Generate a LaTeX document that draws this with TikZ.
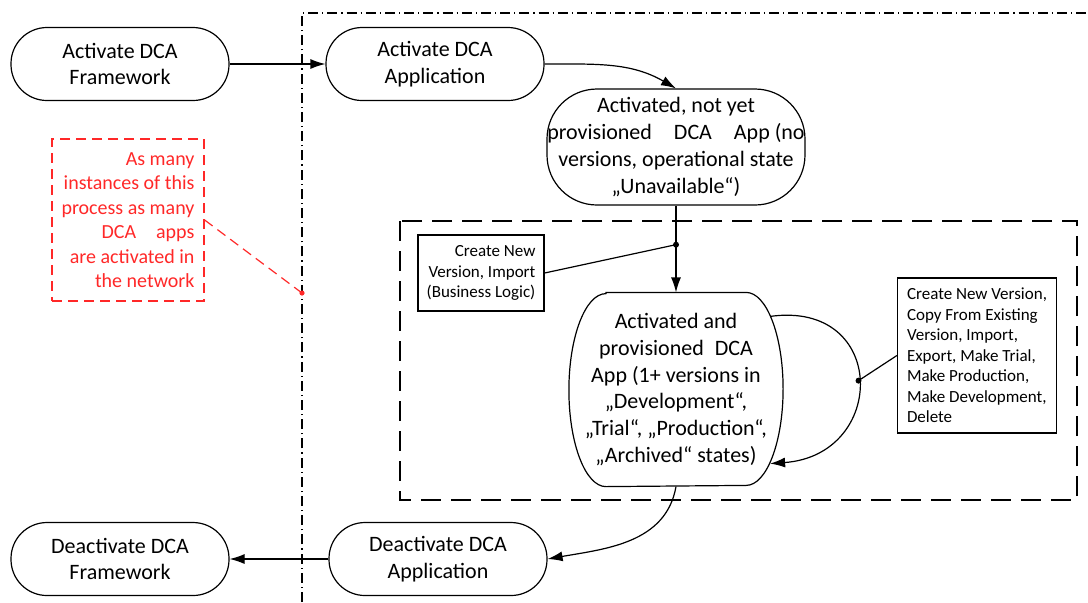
\documentclass[tikz,border=0pt]{standalone}
\usepackage{fontspec}
\setmainfont{Carlito}
\usetikzlibrary{arrows.meta}
\definecolor{noteRed}{RGB}{255,40,40}

\tikzset{
    stadium/.style={rectangle, draw, rounded corners=18pt, align=center, inner sep=0pt,
        minimum width=109pt, minimum height=36.5pt},
    notebox/.style={rectangle, draw, inner sep=0pt, font=\fontsize{8.5}{10.25}\selectfont},
    flow/.style={-{Latex[length=7.5pt, width=5pt]}},
}

\begin{document}
\begin{tikzpicture}[x=0.5pt, y=-0.5pt, line width=0.6pt, font=\fontsize{11}{13.4}\selectfont]
    \useasboundingbox (0, 0) rectangle (1088, 602);

    \draw [dash pattern=on 5pt off 2pt on 0.6pt off 2pt] (302, 602) -- (302, 13) -- (1088, 13);
    \draw [dash pattern=on 10pt off 5pt] (400, 221) rectangle (1077, 500);

    \node (fw) at (120, 64) [stadium] {Activate DCA\\Framework};
    \node (app) at (435, 64) [stadium] {Activate DCA\\Application};
    \node (idle) at (676, 147) [stadium, rounded corners=25pt, minimum width=129pt, minimum height=58pt]
        {Activated, not yet\\provisioned\quad DCA\quad App (no\\versions, operational state\\„Unavailable“)};

    \node (prov) at (676, 389.5) [align=center, inner sep=0pt, minimum width=106.5pt, minimum height=96.5pt]
        {Activated and\\provisioned\enspace DCA\\App (1+ versions in\\„Development“,\\„Trial“, „Production“,\\„Archived“ states)};
    \draw ([xshift=18.5pt]prov.north west) -- ([xshift=-18.5pt]prov.north east)
        arc [start angle=90, end angle=-90, x radius=18.5pt, y radius=48.25pt]
        -- ([xshift=18.5pt]prov.south west)
        arc [start angle=270, end angle=90, x radius=18.5pt, y radius=48.25pt] -- cycle;

    \node (defw) at (120, 559) [stadium] {Deactivate DCA\\Framework};
    \node (deapp) at (438, 559) [stadium] {Deactivate DCA\\Application};

    \node (imp) at (481, 273) [notebox, minimum width=63pt, minimum height=38pt, align=right]
        {Create New\\Version, Import\\(Business Logic)};
    \node (ops) at (977, 355.5) [notebox, minimum width=79.5pt, minimum height=77.5pt, align=left]
        {Create New Version,\\Copy From Existing\\Version, Import,\\Export, Make Trial,\\Make Production,\\Make Development,\\Delete};

    \node (many) at (128, 220) [draw=noteRed, dash pattern=on 5pt off 3pt, text=noteRed, align=right,
        inner sep=0pt, minimum width=76pt, minimum height=81pt, font=\fontsize{10}{12.25}\selectfont]
        {As many\\instances of this\\process as many\\DCA\quad apps\\are activated in\\the network};
    \coordinate (pin) at (302, 293);

    \draw [flow] (fw) -- (app);
    \draw [flow] (app.east) to [out=0, in=150] (idle.north);
    \draw [flow] (idle) -- (prov) coordinate [pos=0.45] (fork);
    \fill (fork) circle (1.5pt);
    \draw (imp.east) -- (fork);

    \draw [flow] ([shift={(-13, 24)}]prov.north east) .. controls (888, 300) and (888, 455) ..
        ([shift={(-13, -23)}]prov.south east) coordinate [pos=0.5] (loopmid);
    \fill (loopmid) circle (1.5pt);
    \draw (ops.west) -- (loopmid);

    \draw [flow] (prov.south) to [out=-100, in=10] (deapp.east);
    \draw [flow] (deapp) -- (defw);

    \draw [noteRed, dash pattern=on 5pt off 3pt] (many.east) -- (pin);
    \fill [noteRed] (pin) circle (1.3pt);
\end{tikzpicture}
\end{document}
